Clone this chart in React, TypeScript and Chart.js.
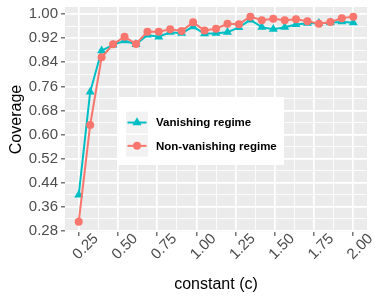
import React, { useEffect, useRef } from "react";
import { Chart, registerables } from "chart.js";

Chart.register(...registerables);

// ---- data ----
const cValues = [
  0.25, 0.323, 0.396, 0.469, 0.542, 0.615, 0.688, 0.76, 0.833, 0.906, 0.979, 1.052, 1.125,
  1.198, 1.271, 1.344, 1.417, 1.49, 1.563, 1.635, 1.708, 1.781, 1.854, 1.927, 2.0,
];
const vanishing = [
  0.399, 0.742, 0.879, 0.898, 0.912, 0.9, 0.931, 0.925, 0.94, 0.937, 0.959, 0.935, 0.937,
  0.94, 0.956, 0.981, 0.957, 0.95, 0.957, 0.966, 0.97, 0.97, 0.972, 0.975, 0.972,
];
const nonVanishing = [
  0.31, 0.632, 0.857, 0.9, 0.925, 0.901, 0.942, 0.942, 0.95, 0.944, 0.973, 0.946, 0.952,
  0.968, 0.967, 0.992, 0.98, 0.985, 0.98, 0.983, 0.977, 0.968, 0.974, 0.987, 0.992,
];
const seriesLabels = ["Vanishing regime", "Non-vanishing regime"];
const xMajorTicks = [0.25, 0.5, 0.75, 1.0, 1.25, 1.5, 1.75, 2.0];
const xMinorTicks = [0.375, 0.625, 0.875, 1.125, 1.375, 1.625, 1.875];
const yMajorTicks = [0.28, 0.36, 0.44, 0.52, 0.6, 0.68, 0.76, 0.84, 0.92, 1.0];
const yMinorTicks = [0.32, 0.4, 0.48, 0.56, 0.64, 0.72, 0.8, 0.88, 0.96];
const xTitle = "constant (c)";
const yTitle = "Coverage";

const TEAL = "#00BFC4";
const RED = "#F8766D";
const FONT = '"Liberation Sans", Arial, sans-serif';

const xAll = [...xMajorTicks, ...xMinorTicks].sort((a, b) => a - b);
const yAll = [...yMajorTicks, ...yMinorTicks].sort((a, b) => a - b);
const isIn = (list: number[], v: number) => list.some((m) => Math.abs(m - v) < 1e-6);

const panelPlugin = {
  id: "ggPanel",
  beforeDraw(chart: any) {
    const { ctx, chartArea } = chart;
    ctx.save();
    ctx.fillStyle = "#EBEBEB";
    ctx.fillRect(chartArea.left, chartArea.top, chartArea.right - chartArea.left, chartArea.bottom - chartArea.top);
    ctx.restore();
  },
};

function drawMarker(ctx: CanvasRenderingContext2D, style: string, x: number, y: number, r: number, color: string) {
  ctx.fillStyle = color;
  ctx.beginPath();
  if (style === "triangle") {
    let rad = 0;
    ctx.moveTo(x + Math.sin(rad) * r, y - Math.cos(rad) * r);
    rad += (2 * Math.PI) / 3;
    ctx.lineTo(x + Math.sin(rad) * r, y - Math.cos(rad) * r);
    rad += (2 * Math.PI) / 3;
    ctx.lineTo(x + Math.sin(rad) * r, y - Math.cos(rad) * r);
    ctx.closePath();
  } else {
    ctx.arc(x, y, r, 0, Math.PI * 2);
  }
  ctx.fill();
}

const legendPlugin = {
  id: "ggLegend",
  afterDatasetsDraw(chart: any) {
    const ctx: CanvasRenderingContext2D = chart.ctx;
    const ds = chart.data.datasets;
    ctx.save();
    ctx.fillStyle = "#FFFFFF";
    ctx.fillRect(118, 97, 166, 68);
    const keyTops = [111.7, 135];
    ds.forEach((d: any, i: number) => {
      const top = keyTops[i];
      ctx.fillStyle = "#F2F2F2";
      ctx.fillRect(126, top, 22, 21.7);
      const cy = top + 10.85;
      ctx.strokeStyle = d.borderColor;
      ctx.lineWidth = 2;
      ctx.beginPath();
      ctx.moveTo(127.5, cy);
      ctx.lineTo(146.5, cy);
      ctx.stroke();
      drawMarker(ctx, d.pointStyle, 137, cy, d.pointRadius, d.borderColor);
      ctx.fillStyle = "#000000";
      ctx.font = `bold 11.5px ${FONT}`;
      ctx.textBaseline = "middle";
      ctx.textAlign = "left";
      ctx.fillText(d.label, 156, cy + 0.5);
    });
    ctx.restore();
  },
};

export default function App() {
  const ref = useRef<HTMLCanvasElement>(null);
  useEffect(() => {
    if (!ref.current) return;
    Chart.defaults.font.family = FONT;
    const gridLine = (majors: number[]) => ({
      color: "#FFFFFF",
      lineWidth: (c: any) => (c.tick && isIn(majors, c.tick.value) ? 1.7 : 0.8),
      tickColor: (c: any) => (c.tick && isIn(majors, c.tick.value) ? "#333333" : "rgba(0,0,0,0)"),
      tickLength: 4,
      tickWidth: 1,
      drawOnChartArea: true,
    });
    const chart = new Chart(ref.current, {
      type: "line",
      data: {
        datasets: [
          {
            label: seriesLabels[0],
            data: cValues.map((c, i) => ({ x: c, y: vanishing[i] })),
            borderColor: TEAL,
            backgroundColor: TEAL,
            pointBackgroundColor: TEAL,
            pointBorderColor: TEAL,
            pointStyle: "triangle",
            pointRadius: 5.2,
            pointBorderWidth: 0,
            borderWidth: 2,
            tension: 0,
            order: 1,
          },
          {
            label: seriesLabels[1],
            data: cValues.map((c, i) => ({ x: c, y: nonVanishing[i] })),
            borderColor: RED,
            backgroundColor: RED,
            pointBackgroundColor: RED,
            pointBorderColor: RED,
            pointStyle: "circle",
            pointRadius: 4,
            pointBorderWidth: 0,
            borderWidth: 2,
            tension: 0,
            order: 0,
          },
        ],
      },
      options: {
        animation: false,
        responsive: false,
        devicePixelRatio: 1,
        layout: { padding: { top: 7, right: 8, left: 0, bottom: 0 } },
        plugins: { legend: { display: false }, tooltip: { enabled: false } },
        scales: {
          x: {
            type: "linear",
            min: 0.1625,
            max: 2.0875,
            afterBuildTicks: (axis: any) => {
              axis.ticks = xAll.map((v) => ({ value: v }));
            },
            afterFit: (s: any) => {
              s.height = 68;
              s.paddingLeft = 0;
              s.paddingRight = 0;
              s.paddingTop = 0;
              s.paddingBottom = 0;
            },
            ticks: {
              autoSkip: false,
              minRotation: 45,
              maxRotation: 45,
              labelOffset: 17.3,
              padding: -6,
              color: "#4D4D4D",
              font: { size: 15 },
              callback: (v: any) => (isIn(xMajorTicks, Number(v)) ? Number(v).toFixed(2) : ""),
            },
            grid: gridLine(xMajorTicks),
            border: { display: false },
            title: {
              display: true,
              text: xTitle,
              color: "#000000",
              font: { size: 16 },
              padding: { top: 0, bottom: 6 },
            },
          },
          y: {
            type: "linear",
            min: 0.276,
            max: 1.024,
            afterBuildTicks: (axis: any) => {
              axis.ticks = yAll.map((v) => ({ value: v }));
            },
            afterFit: (s: any) => {
              s.width = 65;
              s.paddingLeft = 0;
              s.paddingRight = 0;
              s.paddingTop = 0;
              s.paddingBottom = 0;
            },
            ticks: {
              autoSkip: false,
              padding: 3,
              color: "#4D4D4D",
              font: { size: 15 },
              callback: (v: any) => (isIn(yMajorTicks, Number(v)) ? Number(v).toFixed(2) : ""),
            },
            grid: gridLine(yMajorTicks),
            border: { display: false },
            title: {
              display: true,
              text: yTitle,
              color: "#000000",
              font: { size: 16 },
              padding: { top: 7, bottom: 0 },
            },
          },
        },
      } as any,
      plugins: [panelPlugin, legendPlugin],
    });
    return () => chart.destroy();
  }, []);
  return (
    <div style={{ position: "fixed", left: 0, top: 0, width: 375, height: 300, background: "#FFFFFF" }}>
      <canvas ref={ref} width={375} height={300} style={{ display: "block", width: 375, height: 300 }} />
    </div>
  );
}
